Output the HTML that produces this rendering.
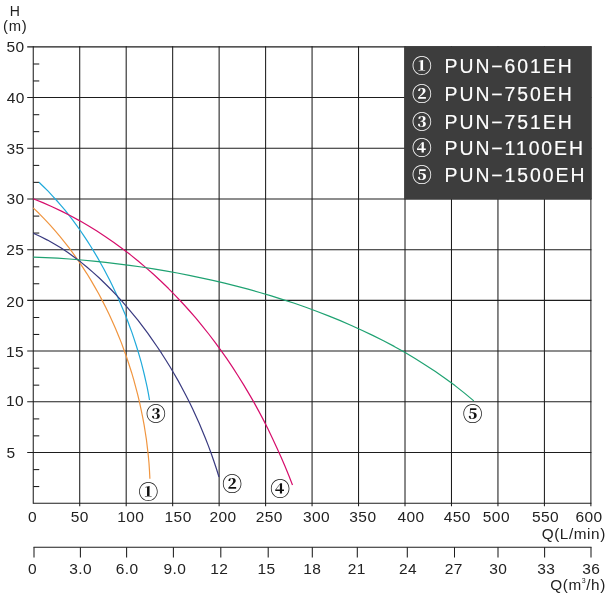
<!DOCTYPE html>
<html lang="en"><head><meta charset="utf-8"><title>Pump performance curves</title>
<style>html,body{margin:0;padding:0;background:#fff}svg{display:block}text{font-family:"Liberation Sans",sans-serif;fill:#222}.c{font-family:"Noto Serif CJK SC","Liberation Serif",serif;font-weight:900}</style></head><body>
<svg width="616" height="601" viewBox="0 0 616 601">
<rect width="616" height="601" fill="#fff"/>
<g stroke="#1d1d1d" stroke-width="1.05" fill="none">
<line x1="33.25" y1="46.35" x2="33.25" y2="503.65"/>
<line x1="79.72" y1="46.35" x2="79.72" y2="506.35"/>
<line x1="126.19" y1="46.35" x2="126.19" y2="506.35"/>
<line x1="172.66" y1="46.35" x2="172.66" y2="506.35"/>
<line x1="219.13" y1="46.35" x2="219.13" y2="506.35"/>
<line x1="265.60" y1="46.35" x2="265.60" y2="506.35"/>
<line x1="312.07" y1="46.35" x2="312.07" y2="506.35"/>
<line x1="358.54" y1="46.35" x2="358.54" y2="506.35"/>
<line x1="405.01" y1="46.35" x2="405.01" y2="506.35"/>
<line x1="451.48" y1="46.35" x2="451.48" y2="506.35"/>
<line x1="497.95" y1="46.35" x2="497.95" y2="506.35"/>
<line x1="544.42" y1="46.35" x2="544.42" y2="506.35"/>
<line x1="590.89" y1="46.35" x2="590.89" y2="506.35"/>
<line x1="27.20" y1="46.85" x2="591.39" y2="46.85"/>
<line x1="27.20" y1="97.55" x2="591.39" y2="97.55"/>
<line x1="27.20" y1="148.25" x2="591.39" y2="148.25"/>
<line x1="27.20" y1="198.95" x2="591.39" y2="198.95"/>
<line x1="27.20" y1="249.65" x2="591.39" y2="249.65"/>
<line x1="27.20" y1="300.35" x2="591.39" y2="300.35"/>
<line x1="27.20" y1="351.05" x2="591.39" y2="351.05"/>
<line x1="27.20" y1="401.75" x2="591.39" y2="401.75"/>
<line x1="27.20" y1="452.45" x2="591.39" y2="452.45"/>
<line x1="33.25" y1="503.15" x2="591.39" y2="503.15"/>
<line x1="33.25" y1="64.00" x2="39.25" y2="64.00"/>
<line x1="33.25" y1="80.95" x2="39.25" y2="80.95"/>
<line x1="33.25" y1="114.70" x2="39.25" y2="114.70"/>
<line x1="33.25" y1="131.65" x2="39.25" y2="131.65"/>
<line x1="33.25" y1="165.40" x2="39.25" y2="165.40"/>
<line x1="33.25" y1="182.35" x2="39.25" y2="182.35"/>
<line x1="33.25" y1="216.10" x2="39.25" y2="216.10"/>
<line x1="33.25" y1="233.05" x2="39.25" y2="233.05"/>
<line x1="33.25" y1="266.80" x2="39.25" y2="266.80"/>
<line x1="33.25" y1="283.75" x2="39.25" y2="283.75"/>
<line x1="33.25" y1="317.50" x2="39.25" y2="317.50"/>
<line x1="33.25" y1="334.45" x2="39.25" y2="334.45"/>
<line x1="33.25" y1="368.20" x2="39.25" y2="368.20"/>
<line x1="33.25" y1="385.15" x2="39.25" y2="385.15"/>
<line x1="33.25" y1="418.90" x2="39.25" y2="418.90"/>
<line x1="33.25" y1="435.85" x2="39.25" y2="435.85"/>
<line x1="33.25" y1="469.60" x2="39.25" y2="469.60"/>
<line x1="33.25" y1="486.55" x2="39.25" y2="486.55"/>
</g>
<g fill="none" stroke-width="1.2" stroke-linecap="butt" stroke-linejoin="round">
<path stroke="#20aadb" d="M39.0,182.2 L43.6,186.7 L48.1,191.2 L52.4,195.8 L56.7,200.5 L60.9,205.3 L65.0,210.2 L68.9,215.2 L72.8,220.2 L76.6,225.3 L80.3,230.5 L83.9,235.8 L87.4,241.1 L90.8,246.5 L94.1,251.9 L97.4,257.4 L100.5,263.0 L103.6,268.5 L106.6,274.2 L109.5,279.8 L112.3,285.6 L115.0,291.3 L117.7,297.1 L120.3,302.9 L122.7,308.7 L125.2,314.6 L127.5,320.5 L129.7,326.5 L131.9,332.4 L133.9,338.4 L135.9,344.5 L137.8,350.5 L139.6,356.6 L141.3,362.7 L142.9,368.9 L144.4,375.0 L145.8,381.2 L147.2,387.4 L148.4,393.7 L149.5,400.0"/>
<path stroke="#d60d6b" d="M33.2,198.8 L42.8,202.6 L52.1,206.8 L61.4,211.1 L70.5,215.8 L79.4,220.6 L88.3,225.7 L96.9,231.1 L105.5,236.7 L113.9,242.4 L122.1,248.4 L130.2,254.6 L138.1,261.0 L145.9,267.6 L153.5,274.3 L161.0,281.2 L168.3,288.3 L175.4,295.6 L182.4,303.0 L189.2,310.5 L195.9,318.2 L202.4,326.1 L208.7,334.0 L214.9,342.1 L220.9,350.4 L226.8,358.7 L232.5,367.1 L238.0,375.7 L243.4,384.4 L248.6,393.1 L253.7,401.9 L258.6,410.9 L263.4,419.9 L268.0,429.0 L272.4,438.2 L276.7,447.4 L280.9,456.7 L284.9,466.1 L288.8,475.5 L292.5,485.0"/>
<path stroke="#f0953f" d="M33.2,207.9 L38.9,213.3 L44.3,218.9 L49.7,224.6 L54.8,230.4 L59.9,236.3 L64.7,242.3 L69.5,248.4 L74.0,254.6 L78.5,260.9 L82.8,267.3 L87.0,273.8 L91.0,280.4 L94.9,287.1 L98.7,293.8 L102.3,300.6 L105.8,307.5 L109.2,314.5 L112.4,321.5 L115.5,328.6 L118.5,335.7 L121.4,342.9 L124.1,350.2 L126.7,357.5 L129.1,364.8 L131.5,372.2 L133.7,379.6 L135.7,387.1 L137.7,394.6 L139.5,402.1 L141.1,409.7 L142.7,417.3 L144.1,424.9 L145.3,432.5 L146.5,440.2 L147.4,447.9 L148.3,455.6 L149.0,463.3 L149.5,471.0 L149.9,478.7"/>
<path stroke="#393a80" d="M33.3,233.2 L40.4,236.5 L47.5,240.1 L54.4,244.0 L61.2,248.1 L67.9,252.6 L74.4,257.2 L80.8,262.1 L87.1,267.3 L93.3,272.6 L99.3,278.0 L105.2,283.7 L111.0,289.5 L116.6,295.4 L122.1,301.4 L127.5,307.6 L132.7,313.9 L137.9,320.2 L142.8,326.7 L147.7,333.2 L152.4,339.8 L157.0,346.5 L161.5,353.2 L165.8,360.0 L170.0,366.8 L174.1,373.7 L178.1,380.6 L181.9,387.7 L185.6,394.7 L189.2,401.8 L192.7,409.0 L196.0,416.2 L199.3,423.5 L202.4,430.9 L205.4,438.3 L208.4,445.9 L211.2,453.5 L213.9,461.2 L216.5,469.0 L219.0,477.0"/>
<path stroke="#1fa272" d="M33.2,257.1 L45.4,257.6 L57.5,258.2 L69.5,259.0 L81.6,260.0 L93.6,261.1 L105.6,262.4 L117.6,263.8 L129.6,265.3 L141.6,267.0 L153.5,268.9 L165.4,270.9 L177.3,273.0 L189.2,275.3 L201.0,277.8 L212.8,280.4 L224.6,283.2 L236.4,286.1 L248.1,289.2 L259.7,292.5 L271.3,295.9 L282.9,299.6 L294.4,303.3 L305.8,307.3 L317.2,311.5 L328.5,315.9 L339.7,320.4 L350.8,325.2 L361.8,330.2 L372.7,335.4 L383.5,340.8 L394.2,346.4 L404.7,352.3 L415.1,358.5 L425.3,364.9 L435.4,371.5 L445.3,378.4 L455.0,385.6 L464.5,393.1 L473.8,400.9"/>
</g>
<rect x="404.2" y="46.3" width="187.5" height="153.1" fill="#3d3d3d"/>
<text class="c" x="422.00" y="73.32" font-size="19.8" text-anchor="middle" style="fill:#fff">①</text>
<text x="444.55" y="73.20" font-size="19.4" letter-spacing="1.95" style="fill:#fff;stroke:#fff;stroke-width:0.18">PUN−601EH</text>
<text class="c" x="422.00" y="100.92" font-size="19.8" text-anchor="middle" style="fill:#fff">②</text>
<text x="444.55" y="100.80" font-size="19.4" letter-spacing="1.95" style="fill:#fff;stroke:#fff;stroke-width:0.18">PUN−750EH</text>
<text class="c" x="422.00" y="129.32" font-size="19.8" text-anchor="middle" style="fill:#fff">③</text>
<text x="444.55" y="129.20" font-size="19.4" letter-spacing="1.95" style="fill:#fff;stroke:#fff;stroke-width:0.18">PUN−751EH</text>
<text class="c" x="422.00" y="155.32" font-size="19.8" text-anchor="middle" style="fill:#fff">④</text>
<text x="444.55" y="155.20" font-size="19.4" letter-spacing="1.95" style="fill:#fff;stroke:#fff;stroke-width:0.18">PUN−1100EH</text>
<text class="c" x="422.00" y="181.82" font-size="19.8" text-anchor="middle" style="fill:#fff">⑤</text>
<text x="444.55" y="181.70" font-size="19.4" letter-spacing="1.95" style="fill:#fff;stroke:#fff;stroke-width:0.18">PUN−1500EH</text>
<text class="c" x="148.40" y="498.72" font-size="19.8" text-anchor="middle" style="fill:#111">①</text>
<text class="c" x="232.10" y="491.12" font-size="19.8" text-anchor="middle" style="fill:#111">②</text>
<text class="c" x="156.00" y="420.82" font-size="19.8" text-anchor="middle" style="fill:#111">③</text>
<text class="c" x="280.10" y="495.92" font-size="19.8" text-anchor="middle" style="fill:#111">④</text>
<text class="c" x="472.60" y="421.02" font-size="19.8" text-anchor="middle" style="fill:#111">⑤</text>
<text x="6.38" y="52.10" font-size="15.5" letter-spacing="0.42">50</text>
<text x="6.69" y="102.70" font-size="15.5" letter-spacing="0.42">40</text>
<text x="6.54" y="154.00" font-size="15.5" letter-spacing="0.42">35</text>
<text x="6.54" y="204.10" font-size="15.5" letter-spacing="0.42">30</text>
<text x="6.22" y="254.60" font-size="15.5" letter-spacing="0.42">25</text>
<text x="6.22" y="306.50" font-size="15.5" letter-spacing="0.42">20</text>
<text x="5.92" y="357.30" font-size="15.5" letter-spacing="0.42">15</text>
<text x="5.92" y="405.90" font-size="15.5" letter-spacing="0.42">10</text>
<text x="6.38" y="458.30" font-size="15.5" letter-spacing="0.42">5</text>
<text x="27.94" y="521.80" font-size="15.5" letter-spacing="0.42">0</text>
<text x="70.69" y="521.80" font-size="15.5" letter-spacing="0.42">50</text>
<text x="117.29" y="521.80" font-size="15.5" letter-spacing="0.42">100</text>
<text x="164.59" y="521.80" font-size="15.5" letter-spacing="0.42">150</text>
<text x="209.44" y="521.80" font-size="15.5" letter-spacing="0.42">200</text>
<text x="255.74" y="521.80" font-size="15.5" letter-spacing="0.42">250</text>
<text x="303.00" y="521.80" font-size="15.5" letter-spacing="0.42">300</text>
<text x="349.30" y="521.80" font-size="15.5" letter-spacing="0.42">350</text>
<text x="397.47" y="521.80" font-size="15.5" letter-spacing="0.42">400</text>
<text x="443.77" y="521.80" font-size="15.5" letter-spacing="0.42">450</text>
<text x="482.82" y="521.80" font-size="15.5" letter-spacing="0.42">500</text>
<text x="532.02" y="521.80" font-size="15.5" letter-spacing="0.42">550</text>
<text x="575.54" y="521.80" font-size="15.5" letter-spacing="0.42">600</text>
<g stroke="#1d1d1d" stroke-width="1.05" fill="none">
<line x1="33.50" y1="547.2" x2="591.50" y2="547.2"/>
<line x1="34.00" y1="547.2" x2="34.00" y2="557.5"/>
<line x1="80.40" y1="547.2" x2="80.40" y2="557.5"/>
<line x1="126.60" y1="547.2" x2="126.60" y2="557.5"/>
<line x1="173.40" y1="547.2" x2="173.40" y2="557.5"/>
<line x1="220.80" y1="547.2" x2="220.80" y2="557.5"/>
<line x1="268.20" y1="547.2" x2="268.20" y2="557.5"/>
<line x1="312.30" y1="547.2" x2="312.30" y2="557.5"/>
<line x1="357.30" y1="547.2" x2="357.30" y2="557.5"/>
<line x1="407.30" y1="547.2" x2="407.30" y2="557.5"/>
<line x1="454.50" y1="547.2" x2="454.50" y2="557.5"/>
<line x1="498.00" y1="547.2" x2="498.00" y2="557.5"/>
<line x1="544.60" y1="547.2" x2="544.60" y2="557.5"/>
<line x1="591.00" y1="547.2" x2="591.00" y2="557.5"/>
</g>
<text x="27.94" y="574.20" font-size="15.5" letter-spacing="0.42">0</text>
<text x="69.15" y="574.20" font-size="15.5" letter-spacing="0.42">3.0</text>
<text x="115.75" y="574.20" font-size="15.5" letter-spacing="0.42">6.0</text>
<text x="163.38" y="574.20" font-size="15.5" letter-spacing="0.42">9.0</text>
<text x="210.18" y="574.20" font-size="15.5" letter-spacing="0.42">12</text>
<text x="257.51" y="574.20" font-size="15.5" letter-spacing="0.42">15</text>
<text x="303.21" y="574.20" font-size="15.5" letter-spacing="0.42">18</text>
<text x="347.74" y="574.20" font-size="15.5" letter-spacing="0.42">21</text>
<text x="398.88" y="574.20" font-size="15.5" letter-spacing="0.42">24</text>
<text x="444.74" y="574.20" font-size="15.5" letter-spacing="0.42">27</text>
<text x="489.32" y="574.20" font-size="15.5" letter-spacing="0.42">30</text>
<text x="537.22" y="574.20" font-size="15.5" letter-spacing="0.42">33</text>
<text x="582.27" y="574.20" font-size="15.5" letter-spacing="0.42">36</text>
<text x="541.68" y="539.00" font-size="15.3" letter-spacing="0.59">Q(L/min)</text>
<text x="550.28" y="589.50" font-size="15.3" letter-spacing="0.59">Q(m<tspan font-size="7" dy="-6.6">3</tspan><tspan dy="6.6">/h)</tspan></text>
<text transform="translate(9.77,15.50) scale(0.95,1)" font-size="14.8">H</text>
<text x="2.96" y="30.70" font-size="14.8" letter-spacing="0.8">(m)</text>
</svg></body></html>
